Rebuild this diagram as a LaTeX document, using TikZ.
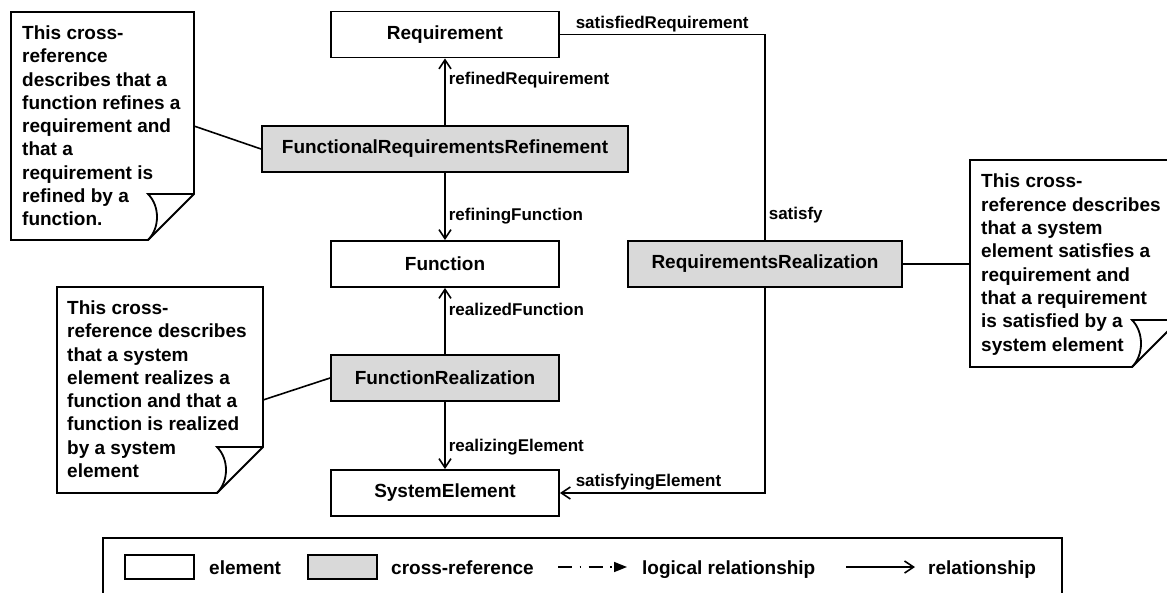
\documentclass[tikz,border=0pt]{standalone}
\usepackage{fontspec}
\setmainfont{Liberation Sans}
\usetikzlibrary{arrows.meta,calc}
\definecolor{xrefgray}{RGB}{217,217,217}
\begin{document}
\begin{tikzpicture}[x=1pt,y=-1pt,
  elem/.style={draw, line width=1.9pt, fill=white, minimum height=46pt, inner sep=0pt,
    font=\fontsize{19}{23}\selectfont\bfseries},
  xref/.style={elem, fill=xrefgray},
  rel/.style={line width=1.6pt},
  relarrow/.style={rel, -{Straight Barb[length=9pt,width=12pt]}},
  role/.style={font=\fontsize{17}{20}\selectfont\bfseries, inner sep=0pt},
  notearea/.style={inner sep=0pt, outer sep=0pt, anchor=north west},
  noteline/.style={line width=1.8pt, line join=miter},
  notetext/.style={font=\fontsize{19}{23.3}\selectfont\bfseries, align=left, inner sep=0pt, anchor=north west},
  lgtext/.style={font=\fontsize{19}{23}\selectfont\bfseries, inner sep=0pt, anchor=base west},
]
\useasboundingbox (0,0) rectangle (1167,592);

% ---- elements and cross-references ----
\node[elem, minimum width=228pt] (req) at (445,34.5) {Requirement};
\node[xref, minimum width=366pt] (frr) at (445,149) {FunctionalRequirementsRefinement};
\node[elem, minimum width=228pt] (fun) at (445,264) {Function};
\node[xref, minimum width=228pt] (fr)  at (445,378) {FunctionRealization};
\node[elem, minimum width=228pt] (se)  at (445,493) {SystemElement};
\node[xref, minimum width=274pt] (rr)  at (765,264) {RequirementsRealization};

% ---- comment notes with folded corner ----
% note 1
\node[notearea, minimum width=183pt, minimum height=228pt] (n1) at (11,12) {};
\draw[noteline, fill=white] (n1.north west) -- (n1.north east) -- ($(n1.south east)+(0,-46)$)
  -- ($(n1.south east)+(-46,0)$) -- (n1.south west) -- cycle;
\draw[noteline] ($(n1.south east)+(0,-46)$) -- ($(n1.south east)+(-46,-46)$)
  .. controls ($(n1.south east)+(-34,-34)$) and ($(n1.south east)+(-34,-12)$) .. ($(n1.south east)+(-46,0)$);
\node[notetext] (n1t) at ($(n1.north west)+(11,13.5)$)
  {This cross-\\reference\\describes that a\\function refines a\\requirement and\\that a\\requirement is\\refined by a\\function.};

% note 2
\node[notearea, minimum width=206pt, minimum height=206pt] (n2) at (57,287) {};
\draw[noteline, fill=white] (n2.north west) -- (n2.north east) -- ($(n2.south east)+(0,-46)$)
  -- ($(n2.south east)+(-46,0)$) -- (n2.south west) -- cycle;
\draw[noteline] ($(n2.south east)+(0,-46)$) -- ($(n2.south east)+(-46,-46)$)
  .. controls ($(n2.south east)+(-34,-34)$) and ($(n2.south east)+(-34,-12)$) .. ($(n2.south east)+(-46,0)$);
\node[notetext] (n2t) at ($(n2.north west)+(10,13.5)$)
  {This cross-\\reference describes\\that a system\\element realizes a\\function and that a\\function is realized\\by a system\\element};

% note 3
\node[notearea, minimum width=209pt, minimum height=207pt] (n3) at (970,160) {};
\draw[noteline, fill=white] (n3.north west) -- (n3.north east) -- ($(n3.south east)+(0,-47)$)
  -- ($(n3.south east)+(-47,0)$) -- (n3.south west) -- cycle;
\draw[noteline] ($(n3.south east)+(0,-47)$) -- ($(n3.south east)+(-47,-47)$)
  .. controls ($(n3.south east)+(-35,-35)$) and ($(n3.south east)+(-35,-12)$) .. ($(n3.south east)+(-47,0)$);
\node[notetext] (n3t) at ($(n3.north west)+(11,14)$)
  {This cross-\\reference describes\\that a system\\element satisfies a\\requirement and\\that a requirement\\is satisfied by a\\system element};

% ---- note anchors ----
\draw[rel] (n1.east) -- (frr.west);
\draw[rel] ($(n2.east)+(0,10)$) -- (fr.west);
\draw[rel] (rr.east) -- (rr.east -| n3.west);

% ---- relationships ----
\draw[relarrow] (frr.north) -- node[role, pos=0.67, anchor=west, xshift=3pt] {refinedRequirement} (req.south);
\draw[relarrow] (frr.south) -- node[role, pos=0.65, anchor=west, xshift=3pt] {refiningFunction} (fun.north);
\draw[relarrow] (fr.north) -- node[role, pos=0.68, anchor=west, xshift=3pt] {realizedFunction} (fun.south);
\draw[relarrow] (fr.south) -- node[role, pos=0.67, anchor=west, xshift=3pt] {realizingElement} (se.north);

\draw[rel] (req.east) -- node[role, pos=0, anchor=base west, xshift=15pt, yshift=6pt] {satisfiedRequirement}
  (req.east -| rr.north) -- node[role, pos=0.88, anchor=west, xshift=3pt] {satisfy} (rr.north);
\draw[relarrow] (rr.south) -- (rr.south |- se.east)
  -- node[role, pos=1, anchor=base west, xshift=15pt, yshift=7pt] {satisfyingElement} (se.east);

% ---- legend ----
\draw[line width=1.6pt] (103,538) rectangle (1062,600);
\node[draw, line width=1.5pt, fill=white, minimum width=69pt, minimum height=24pt, inner sep=0pt] (lgelem) at (159.5,567) {};
\node[lgtext] (lgelemt) at (209,574) {element};
\node[draw, line width=1.5pt, fill=xrefgray, minimum width=69pt, minimum height=24pt, inner sep=0pt] (lgxref) at (342.5,567) {};
\node[lgtext] (lgxreft) at (391,574) {cross-reference};
\coordinate (lgla) at (558,567);
\coordinate (lglb) at (627,567);
\draw[line width=1.6pt, dash pattern=on 14pt off 7.5pt on 1.5pt off 7.5pt,
  -{Triangle[length=13pt,width=10pt]}] (lgla) -- (lglb);
\node[lgtext] (lglt) at (642,574) {logical relationship};
\coordinate (lgra) at (846,567);
\coordinate (lgrb) at (915,567);
\draw[relarrow] (lgra) -- (lgrb);
\node[lgtext] (lgrt) at (928,574) {relationship};
\end{tikzpicture}
\end{document}
